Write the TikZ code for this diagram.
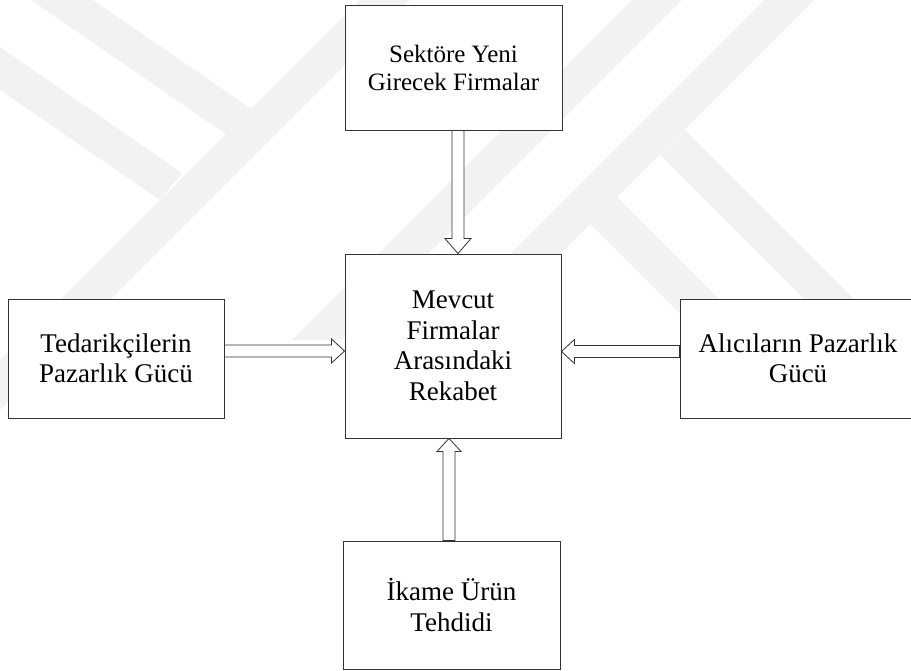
\documentclass[tikz,border=0pt]{standalone}
\usepackage{fontspec}
\setmainfont{Liberation Serif}
\usetikzlibrary{calc}

\tikzset{
  kutu/.style={draw=black!80, line width=0.9pt, fill=white, align=center,
    inner sep=0pt, font=\fontsize{27}{30.5}\selectfont},
  ok/.style={draw=black!80, line width=0.8pt, fill=white, line join=miter},
  iz/.style={fill=black!5},
}

\begin{document}
\begin{tikzpicture}[x=1pt,y=-1pt]
      \useasboundingbox (0,0) rectangle (911,671);
      % soluk filigran
      \fill[iz] (31,0) -- (93,0) -- (253,110) -- (227,135) -- cycle
                (0,47) -- (182,173) -- (160,200) -- (0,90) -- cycle
                (360,0) -- (410,0) -- (0,410) -- (0,360) -- cycle
                (632,0) -- (682,0) -- (342,340) -- (292,340) -- cycle
                (764,0) -- (814,0) -- (414,400) -- (364,400) -- cycle
                (685,130) -- (885,330) -- (835,330) -- (660,155) -- cycle
                (617,197) -- (740,320) -- (686,320) -- (588,222) -- cycle;
      % kutular
      \node[kutu, minimum width=217pt, minimum height=125pt,
            font=\fontsize{25}{28}\selectfont] (giris) at (453.5,67.5) {Sektöre Yeni\\Girecek Firmalar};
      \node[kutu, minimum width=216pt, minimum height=184pt] (rekabet) at (453,346) {Mevcut\\Firmalar\\Arasındaki\\Rekabet};
      \node[kutu, minimum width=216pt, minimum height=119pt] (tedarik) at (116,358.5) {Tedarikçilerin\\Pazarlık Gücü};
      \node[kutu, minimum width=236pt, minimum height=119pt] (alici) at (798,358.5) {Alıcıların Pazarlık\\Gücü};
      \node[kutu, minimum width=217pt, minimum height=128pt] (ikame) at (451.5,605) {İkame Ürün\\Tehdidi};
      % oklar
      \coordinate (ta) at ([xshift=4.5pt]giris.south);
      \coordinate (la) at ([yshift=7.5pt]tedarik.east);
      \coordinate (ra) at ([yshift=7pt]alici.west);
      \coordinate (ba) at ([xshift=-2.5pt]ikame.north);
      \draw[ok] ($(ta)+(-6,0)$) -- ($(ta|-rekabet.north)+(-6,-15)$) -- ++(-7,0)
                -- (ta|-rekabet.north) -- ++(13,-15) -- ++(-7,0) -- ($(ta)+(6,0)$) -- cycle;
      \draw[ok] ($(la)+(0,-6)$) -- ($(rekabet.west|-la)+(-13,-6)$) -- ++(0,-6)
                -- (rekabet.west|-la) -- ++(-13,12) -- ++(0,-6) -- ($(la)+(0,6)$) -- cycle;
      \draw[ok] ($(ra)+(0,-6)$) -- ($(rekabet.east|-ra)+(13,-6)$) -- ++(0,-6)
                -- (rekabet.east|-ra) -- ++(13,12) -- ++(0,-6) -- ($(ra)+(0,6)$) -- cycle;
      \draw[ok] ($(ba)+(-6,0)$) -- ($(ba|-rekabet.south)+(-6,13)$) -- ++(-6,0)
                -- (ba|-rekabet.south) -- ++(12,13) -- ++(-6,0) -- ($(ba)+(6,0)$) -- cycle;
\end{tikzpicture}
\end{document}
